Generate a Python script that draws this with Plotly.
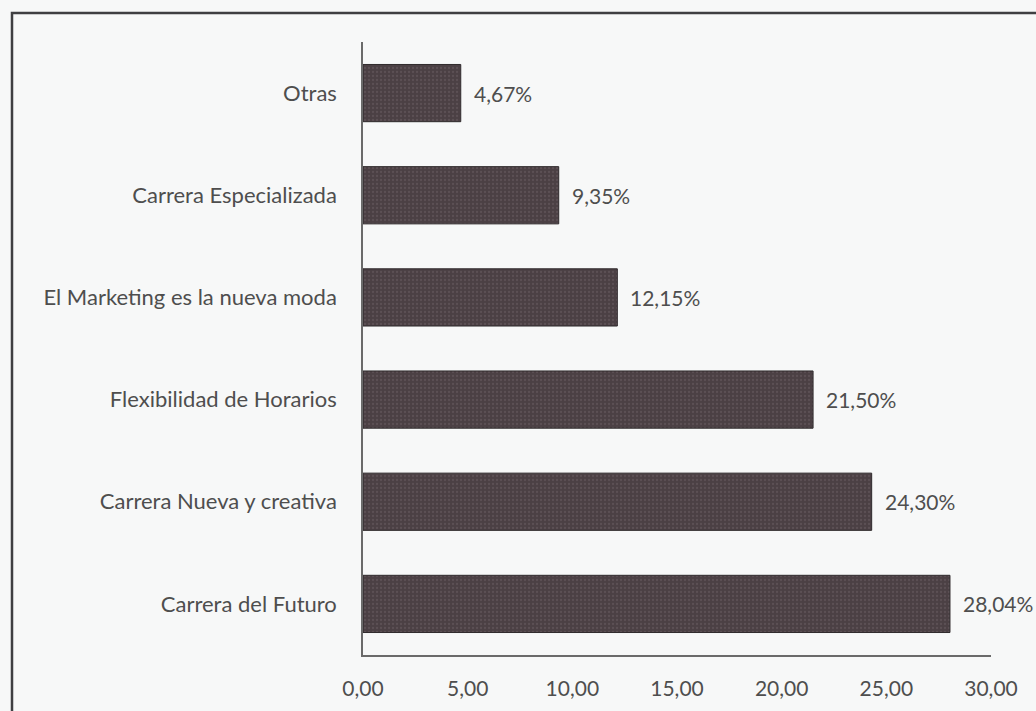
import plotly.graph_objects as go

# Survey categories (bottom to top) and their percentages
categories = [
    "Carrera del Futuro",
    "Carrera Nueva y creativa",
    "Flexibilidad de Horarios",
    "El Marketing es la nueva moda",
    "Carrera Especializada",
    "Otras",
]
values = [28.04, 24.30, 21.50, 12.15, 9.35, 4.67]
tick_vals = [0, 5, 10, 15, 20, 25, 30]
tick_text = ["0,00", "5,00", "10,00", "15,00", "20,00", "25,00", "30,00"]

FONT = "Lato"
TEXT_COLOR = "#4e4e4e"
BAR_COLOR = "#4b4044"
BG = "#f7f8f8"

W, H = 1036, 711
L, R, T, B = 363, 45, 42, 56
PW, PH = W - L - R, H - T - B


def px_x(x):
    return (x - L) / PW


def px_y(y):
    return (H - B - y) / PH


fig = go.Figure(
    go.Bar(
        x=values,
        y=categories,
        orientation="h",
        marker=dict(
            color=BAR_COLOR,
            line=dict(color="#2f2a2c", width=1),
            pattern=dict(shape=".", fgcolor="#6c6064", bgcolor=BAR_COLOR,
                         size=4, solidity=0.25),
        ),
        hoverinfo="skip",
    )
)

# value labels to the right of each bar
for cat, v in zip(categories, values):
    fig.add_annotation(
        x=v, y=cat, xref="x", yref="y",
        text=f"{v:.2f}%".replace(".", ","),
        showarrow=False, xanchor="left", xshift=11,
        font=dict(family=FONT, size=21, color=TEXT_COLOR),
    )

# chart frame
fig.add_shape(
    type="path",
    xref="paper", yref="paper",
    path=f"M {px_x(12)} {px_y(760)} L {px_x(12)} {px_y(13)} L {px_x(1100)} {px_y(13)}",
    line=dict(color="#3f3f42", width=2.5),
)

fig.update_layout(
    width=W, height=H,
    margin=dict(l=L, r=R, t=T, b=B, pad=0),
    paper_bgcolor=BG, plot_bgcolor=BG,
    bargap=0.44,
    showlegend=False,
    font=dict(family=FONT, size=22, color=TEXT_COLOR),
    xaxis=dict(
        range=[0, 30], tickvals=tick_vals, ticktext=tick_text,
        showgrid=False, zeroline=False,
        showline=True, linecolor="#6a6a6a", linewidth=1.5,
        ticks="outside", ticklen=0, ticklabelstandoff=14,
        tickfont=dict(family=FONT, size=21, color=TEXT_COLOR),
    ),
    yaxis=dict(
        range=[-0.5, 5.5], showgrid=False, zeroline=False,
        showline=True, linecolor="#6a6a6a", linewidth=1.5,
        ticks="outside", ticklen=0, ticklabelstandoff=20,
        tickfont=dict(family=FONT, size=22, color=TEXT_COLOR),
    ),
)

fig.write_html("out.html")
